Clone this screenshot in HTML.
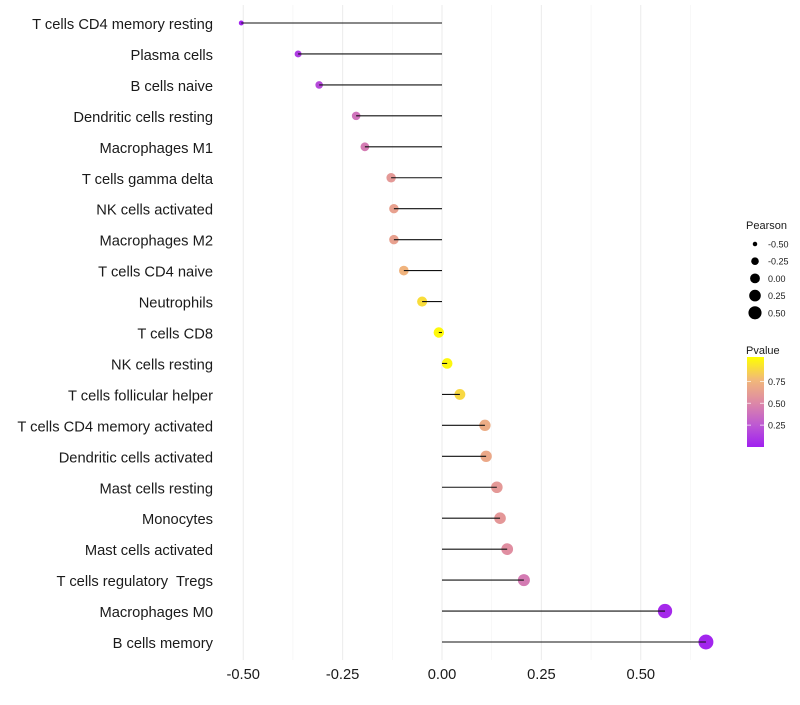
<!DOCTYPE html>
<html><head><meta charset="utf-8"><style>
body{margin:0;background:#fff;font-family:"Liberation Sans",sans-serif}
text{white-space:pre}
</style></head><body>
<svg id="chart" width="800" height="700" xmlns="http://www.w3.org/2000/svg"></svg>
<script>
const categories=["T cells CD4 memory resting","Plasma cells","B cells naive","Dendritic cells resting","Macrophages M1","T cells gamma delta","NK cells activated","Macrophages M2","T cells CD4 naive","Neutrophils","T cells CD8","NK cells resting","T cells follicular helper","T cells CD4 memory activated","Dendritic cells activated","Mast cells resting","Monocytes","Mast cells activated","T cells regulatory  Tregs","Macrophages M0","B cells memory"];
const pearson=[-0.505,-0.362,-0.309,-0.216,-0.194,-0.128,-0.121,-0.121,-0.096,-0.050,-0.008,0.013,0.045,0.108,0.111,0.138,0.146,0.164,0.206,0.561,0.664];
const pvalue=[0.01,0.12,0.18,0.38,0.42,0.58,0.62,0.62,0.72,0.88,0.98,0.97,0.86,0.68,0.66,0.58,0.57,0.52,0.42,0.04,0.02];
const xTicks=[-0.5,-0.25,0,0.25,0.5];
const xTickLabels=["-0.50","-0.25","0.00","0.25","0.50"];
const sizeBreaks=[-0.5,-0.25,0,0.25,0.5];
const sizeLabels=["-0.50","-0.25","0.00","0.25","0.50"];
const colorBreaks=[0.25,0.5,0.75];
const colorLabels=["0.25","0.50","0.75"];

const svg=document.getElementById('chart');const NS="http://www.w3.org/2000/svg";
function mk(t,a,p){const e=document.createElementNS(NS,t);for(const k in a)e.setAttribute(k,a[k]);(p||svg).appendChild(e);return e;}
const x=v=>442+v*397.5;
const y=i=>23+i*30.95;
const r=v=>Math.sqrt(Math.max(4,27.5+42.5*v));
const rl=v=>Math.sqrt(Math.max(4,24+38*v));
const stops=[[0,[160,32,240]],[0.25,[190,90,210]],[0.5,[222,138,165]],[0.75,[242,185,120]],[1,[255,255,0]]];
function col(p){for(let i=1;i<stops.length;i++){if(p<=stops[i][0]){const a=stops[i-1],b=stops[i];const t=(p-a[0])/(b[0]-a[0]);const c=a[1].map((v,k)=>Math.round(v+(b[1][k]-v)*t));return`rgb(${c})`;}}return"rgb(255,255,0)";}
for(let v=-0.5;v<=0.625+1e-9;v+=0.125){const maj=Math.abs((v*4)%1)<1e-6;const g=mk('line',{x1:x(v),x2:x(v),y1:5,y2:660,stroke:maj?'#ebebeb':'#f3f3f3','stroke-width':maj?1:0.6});
}
categories.forEach((c,i)=>{
 const t=mk('text',{x:213,y:y(i)+6,'text-anchor':'end','font-size':14.7,fill:'#1a1a1a'});t.textContent=c;
 
 const pt=mk('circle',{cx:x(pearson[i]),cy:y(i),r:r(pearson[i]),fill:col(pvalue[i])});
 
 const l=mk('line',{x1:x(0),x2:x(pearson[i]),y1:y(i),y2:y(i),stroke:'#111','stroke-width':1.1});
 
});
xTicks.forEach((v,i)=>{const t=mk('text',{x:x(v),y:679,'text-anchor':'middle','font-size':14.7,fill:'#1a1a1a'});t.textContent=xTickLabels[i];
});
let t=mk('text',{x:746,y:229,'font-size':11,fill:'#1a1a1a'});t.textContent='Pearson';
sizeBreaks.forEach((v,i)=>{const cy=244+i*17.2;const c=mk('circle',{cx:755,cy:cy,r:rl(v),fill:'#000'});
const tt=mk('text',{x:768,y:cy+3.5,'font-size':9,fill:'#1a1a1a'});tt.textContent=sizeLabels[i];});
t=mk('text',{x:746,y:354,'font-size':11,fill:'#1a1a1a'});t.textContent='Pvalue';
const defs=mk('defs',{});const lg=mk('linearGradient',{id:'g',x1:0,y1:1,x2:0,y2:0},defs);
stops.forEach(s=>mk('stop',{offset:s[0],'stop-color':`rgb(${s[1]})`},lg));
const cb0=447,cbH=90;
const bar=mk('rect',{x:747,y:cb0-cbH,width:17,height:cbH,fill:'url(#g)'});
colorBreaks.forEach((v,i)=>{const cy=cb0-v*cbH/1.03;mk('line',{x1:747,x2:751,y1:cy,y2:cy,stroke:'#fff','stroke-opacity':0.7});mk('line',{x1:760,x2:764,y1:cy,y2:cy,stroke:'#fff','stroke-opacity':0.7});
const tt=mk('text',{x:768,y:cy+3.5,'font-size':9,fill:'#1a1a1a'});tt.textContent=colorLabels[i];});
</script></body></html>
